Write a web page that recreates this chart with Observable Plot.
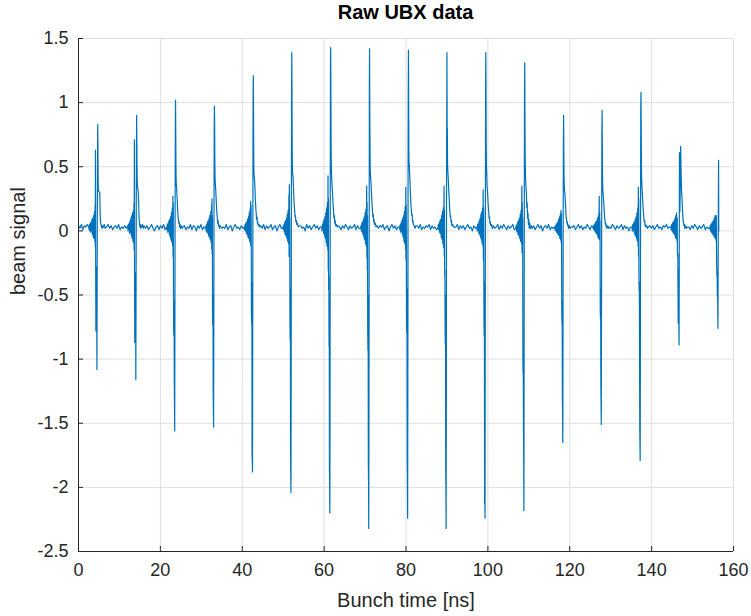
<!DOCTYPE html>
<html><head><meta charset="utf-8">
<script src="https://cdn.jsdelivr.net/npm/d3@7"></script>
<script src="https://cdn.jsdelivr.net/npm/@observablehq/plot@0.6"></script>
<style>
body{margin:0;background:#fff;}
#wrap{width:751px;height:616px;position:relative;font-family:"Liberation Sans",Arial,sans-serif;}
#title{position:absolute;left:78px;width:655px;top:0;height:24px;line-height:24px;text-align:center;font-weight:bold;font-size:20px;color:#000;}
#chart{position:absolute;left:0;top:28px;}
</style></head><body>
<div id="wrap"><div id="title">Raw UBX data</div><div id="chart"></div></div>
<script>
// ---- axes ----
const xDomain = [0, 160];
const yDomain = [-2.5, 1.5];
const xTicks = [0, 20, 40, 60, 80, 100, 120, 140, 160];
const yTicks = [-2.5, -2, -1.5, -1, -0.5, 0, 0.5, 1, 1.5];
const xLabel = "Bunch time [ns]";
const yLabel = "beam signal";

// ---- bunch arrival times (ns), time of main negative spike ----
const pulseTime = [4.5, 14.0, 23.5, 33.0, 42.5, 51.9, 61.4, 70.9, 80.4, 89.8, 99.3, 108.8, 118.3, 127.7, 137.2, 146.7, 156.2];

// sample offsets (ns) around each bunch
const pulseOffsets = [-2.0,-1.9,-1.8,-1.7,-1.6,-1.5,-1.4,-1.3,-1.2,-1.1,-1.0,-0.9,-0.8,-0.7,-0.6,
  -0.5,-0.45,-0.4,-0.35,-0.3,-0.25,-0.2,-0.15,-0.1,-0.05,0,0.05,0.1,0.15,0.2,0.25,0.3,0.35,0.4,
  0.5,0.6,0.7,0.8,0.9,1.0,1.1,1.2,1.3,1.4,
  1.6,1.8,2.0];

// signal values at those offsets, one row per bunch
const pulse01 = [0.03,0.01,0.05,0.00,0.06,-0.01,0.07,0.00,0.09,-0.03,0.10,-0.05,0.12,-0.06,0.15,
  -0.08,0.20,-0.12,0.63,-0.30,-0.78,-0.33,-0.28,-0.31,-0.60,-1.08,-0.45,0.10,0.55,0.83,0.62,0.40,0.31,0.31,
  0.31,0.30,0.30,0.12,0.06,0.05,0.03,0.04,0.02,0.04, 0.03,0.05,0.02];
const pulse02 = [0.04,0.00,0.05,0.01,0.06,-0.02,0.08,-0.01,0.10,-0.04,0.12,-0.06,0.14,-0.08,0.16,
  -0.10,0.22,-0.15,0.71,-0.40,-0.87,-0.56,-0.33,-0.52,-0.45,-1.16,-0.60,0.05,0.62,0.90,0.70,0.48,0.38,0.35,
  0.33,0.30,0.22,0.10,0.06,0.03,0.05,0.02,0.04,0.03, 0.05,0.02,0.04];
const pulse03 = [0.03,0.01,0.05,-0.01,0.06,0.00,0.08,-0.03,0.09,-0.05,0.11,-0.07,0.14,-0.09,0.18,
  -0.12,0.27,-0.20,0.22,-0.43,-0.78,-0.82,-0.55,-1.20,-1.35,-1.56,-0.70,0.20,0.75,1.02,0.80,0.52,0.40,0.36,
  0.32,0.25,0.18,0.12,0.08,0.06,0.07,0.03,0.05,0.02, 0.04,0.02,0.03];
const pulse04 = [0.02,0.04,0.00,0.05,-0.01,0.07,-0.02,0.08,-0.04,0.10,-0.05,0.12,-0.07,0.15,-0.09,
  0.20,-0.14,0.25,-0.18,0.12,-0.70,-0.74,-0.50,-1.25,-1.40,-1.53,-0.80,0.15,0.76,0.97,0.85,0.55,0.42,0.38,
  0.33,0.27,0.20,0.14,0.10,0.06,0.08,0.04,0.05,0.02, 0.04,0.03,0.02];
const pulse05 = [0.03,0.01,0.05,0.00,0.06,-0.02,0.07,-0.03,0.09,-0.05,0.11,-0.06,0.14,-0.08,0.17,
  -0.10,0.23,-0.12,0.20,-0.08,-0.65,-0.72,-0.40,-1.75,-1.79,-1.88,-1.00,0.25,1.01,1.21,1.00,0.60,0.45,0.43,
  0.40,0.33,0.25,0.18,0.14,0.09,0.11,0.06,0.07,0.04, 0.05,0.03,0.04];
const pulse06 = [0.02,0.04,0.01,0.05,-0.01,0.07,-0.03,0.08,-0.04,0.10,-0.06,0.13,-0.08,0.16,-0.10,
  0.28,-0.20,0.36,-0.15,0.10,-0.70,-0.85,-0.45,-1.70,-1.90,-2.04,-1.10,0.30,1.08,1.39,1.05,0.65,0.48,0.45,
  0.42,0.35,0.27,0.20,0.16,0.11,0.12,0.07,0.08,0.05, 0.06,0.03,0.04];
const pulse07 = [0.03,0.00,0.05,0.01,0.07,-0.02,0.09,-0.04,0.11,-0.06,0.14,-0.09,0.18,-0.12,0.22,
  -0.15,0.43,-0.31,0.25,-0.46,-0.35,-0.90,-0.55,-1.86,-1.95,-2.20,-1.20,0.35,1.30,1.43,1.10,0.70,0.51,0.45,
  0.37,0.32,0.26,0.20,0.15,0.10,0.12,0.06,0.08,0.04, 0.05,0.03,0.04];
const pulse08 = [0.02,0.04,0.00,0.06,-0.01,0.07,-0.03,0.09,-0.05,0.11,-0.07,0.14,-0.10,0.17,-0.12,
  0.35,-0.21,0.22,-0.30,0.12,-0.77,-0.93,-0.50,-1.81,-1.95,-2.32,-1.40,-0.30,1.10,1.42,0.95,0.70,0.50,0.44,
  0.40,0.34,0.27,0.21,0.16,0.11,0.13,0.07,0.09,0.05, 0.06,0.03,0.04];
const pulse09 = [0.03,0.01,0.05,-0.01,0.06,0.00,0.08,-0.03,0.10,-0.05,0.12,-0.08,0.15,-0.10,0.19,
  -0.14,0.34,-0.23,0.20,-0.10,-0.72,-0.80,-0.45,-1.78,-1.92,-2.24,-1.15,0.30,1.04,1.41,1.00,0.59,0.51,0.52,
  0.44,0.36,0.28,0.21,0.16,0.12,0.13,0.07,0.08,0.05, 0.04,0.02,0.04];
const pulse10 = [0.02,0.05,0.01,0.06,-0.01,0.08,-0.02,0.09,-0.05,0.12,-0.07,0.15,-0.10,0.18,-0.13,
  0.35,-0.20,0.16,-0.35,-0.30,-0.75,-0.88,-0.50,-1.85,-2.00,-2.32,-1.30,0.20,0.87,1.39,0.76,0.80,0.53,0.48,
  0.42,0.35,0.28,0.22,0.16,0.11,0.12,0.07,0.08,0.04, 0.05,0.03,0.03];
const pulse11 = [0.03,0.00,0.05,0.01,0.06,-0.02,0.08,-0.03,0.10,-0.05,0.13,-0.07,0.15,-0.10,0.18,
  -0.12,0.32,-0.23,0.18,-0.12,-0.70,-0.82,-0.40,-2.13,-1.90,-2.24,-1.10,0.32,1.15,1.39,0.95,0.62,0.51,0.45,
  0.35,0.31,0.25,0.19,0.15,0.10,0.11,0.06,0.07,0.04, 0.05,0.02,0.04];
const pulse12 = [0.02,0.04,0.00,0.05,-0.01,0.07,-0.03,0.08,-0.04,0.10,-0.06,0.13,-0.08,0.16,-0.10,
  0.35,-0.17,0.22,-0.12,0.10,-0.98,-1.11,-1.00,-1.54,-1.80,-2.18,-1.05,0.28,1.05,1.31,0.92,0.60,0.48,0.42,
  0.35,0.30,0.18,0.22,0.10,0.14,0.05,0.09,0.02,0.06, 0.02,0.04,0.02];
const pulse13 = [0.03,0.01,0.04,0.00,0.05,-0.01,0.06,-0.02,0.07,-0.03,0.09,-0.04,0.11,-0.06,0.13,
  -0.07,0.16,-0.09,0.14,-0.05,-0.64,-0.72,-0.55,-1.30,-1.45,-1.65,-0.85,0.12,0.70,0.90,0.65,0.44,0.36,0.32,
  0.30,0.24,0.18,0.12,0.09,0.06,0.07,0.04,0.05,0.02, 0.04,0.02,0.03];
const pulse14 = [0.02,0.04,0.01,0.05,0.00,0.06,-0.01,0.07,-0.02,0.08,-0.03,0.10,-0.05,0.12,-0.06,
  0.27,-0.07,0.15,-0.05,0.08,-0.60,-0.68,-0.45,-1.20,-1.35,-1.51,-0.75,0.10,0.76,0.94,0.70,0.45,0.36,0.30,
  0.27,0.22,0.17,0.11,0.08,0.05,0.06,0.03,0.04,0.02, 0.04,0.02,0.03];
const pulse15 = [0.03,0.00,0.05,0.01,0.06,-0.01,0.07,-0.03,0.09,-0.04,0.11,-0.06,0.14,-0.08,0.18,
  -0.12,0.34,-0.20,0.25,-0.37,-0.46,-0.40,-0.90,-1.52,-1.65,-1.79,-0.95,0.20,0.96,1.08,0.85,0.55,0.41,0.38,
  0.30,0.25,0.19,0.14,0.10,0.07,0.08,0.04,0.05,0.03, 0.04,0.02,0.03];
const pulse16 = [0.03,0.01,0.05,0.00,0.06,-0.01,0.07,-0.02,0.08,-0.03,0.10,-0.05,0.12,-0.06,0.14,
  -0.08,0.10,-0.16,-0.20,-0.18,-0.50,-0.72,-0.30,-0.55,-0.70,-0.89,-0.20,0.61,0.40,0.15,0.25,0.45,0.59,0.66,
  0.45,0.31,0.27,0.20,0.12,0.08,0.06,0.04,0.05,0.02, 0.04,0.02,0.03];
// the record ends on the last bunch
const pulse17 = [0.02,0.04,0.00,0.05,-0.01,0.06,-0.02,0.07,-0.03,0.08,-0.04,0.10,-0.05,0.12,-0.06,
  0.10,-0.08,0.12,-0.15,-0.30,-0.35,-0.32,-0.51,-0.40,-0.60,-0.76,-0.30,0.20,0.55,0.00];
const pulseRows = [pulse01,pulse02,pulse03,pulse04,pulse05,pulse06,pulse07,pulse08,pulse09,pulse10,pulse11,pulse12,pulse13,pulse14,pulse15,pulse16,pulse17];

// baseline noise between bunches (gap 0 = record start up to first bunch)
const gap00 = [0.04,0.02,0.05,0.01,0.04,0.03,0.05];
const gap01 = [0.03,0.05,0.02,0.04,0.01,0.03,0.04,0.02,0.05,0.01,0.03,0.02,0.04,0.02];
const gap02 = [0.02,0.04,0.01,0.03,0.05,0.02,0.00,0.03,0.04,0.01,0.04,0.02,0.05,0.01];
const gap03 = [0.04,0.01,0.03,0.02,0.05,0.01,0.04,0.03,0.00,0.04,0.02,0.05,0.01,0.03];
const gap04 = [0.03,0.02,0.05,0.01,0.03,0.04,0.00,0.03,0.05,0.02,0.03,0.01,0.04,0.02];
const gap05 = [0.02,0.05,0.01,0.04,0.02,0.03,0.05,0.01,0.03,0.04,0.00,0.03,0.05,0.02];
const gap06 = [0.04,0.02,0.03,0.00,0.05,0.02,0.04,0.01,0.03,0.05,0.02,0.04,0.01,0.03];
const gap07 = [0.03,0.01,0.04,0.02,0.05,0.03,0.01,0.04,0.02,0.03,0.05,0.01,0.04,0.02];
const gap08 = [0.02,0.04,0.03,0.05,0.01,0.03,0.04,0.00,0.03,0.05,0.02,0.04,0.01,0.03];
const gap09 = [0.04,0.02,0.05,0.01,0.03,0.02,0.04,0.03,0.05,0.01,0.04,0.02,0.03,0.01];
const gap10 = [0.03,0.05,0.01,0.04,0.02,0.04,0.01,0.03,0.05,0.02,0.03,0.00,0.04,0.02];
const gap11 = [0.02,0.03,0.05,0.01,0.04,0.02,0.05,0.03,0.01,0.04,0.02,0.03,0.05,0.01];
const gap12 = [0.04,0.01,0.03,0.05,0.02,0.04,0.00,0.03,0.04,0.02,0.05,0.01,0.03,0.02];
const gap13 = [0.03,0.04,0.01,0.03,0.05,0.02,0.04,0.01,0.03,0.02,0.05,0.03,0.01,0.04];
const gap14 = [0.02,0.05,0.03,0.01,0.04,0.02,0.03,0.05,0.01,0.04,0.02,0.03,0.00,0.03];
const gap15 = [0.04,0.02,0.04,0.01,0.03,0.05,0.02,0.03,0.01,0.04,0.03,0.05,0.02,0.03];
const gap16 = [0.03,0.01,0.04,0.02,0.05,0.03,0.01,0.04,0.02,0.03,0.05,0.01,0.03,0.02];
const gapRows = [gap01,gap02,gap03,gap04,gap05,gap06,gap07,gap08,gap09,gap10,gap11,gap12,gap13,gap14,gap15,gap16];

// ---- assemble the trace ----
const samples = [];
{
  const end0 = pulseTime[0] + pulseOffsets[0];
  gap00.forEach((v, j) => samples.push({t: end0 * j / gap00.length, v}));
  pulseRows.forEach((row, i) => {
    row.forEach((v, k) => samples.push({t: pulseTime[i] + pulseOffsets[k], v}));
    const g = gapRows[i];
    if (g) {
      const a = pulseTime[i] + pulseOffsets[pulseOffsets.length - 1];
      const b = pulseTime[i + 1] + pulseOffsets[0];
      g.forEach((v, j) => samples.push({t: a + (b - a) * (j + 1) / (g.length + 1), v}));
    }
  });
}

const ink = "#262626";
const plot = Plot.plot({
  width: 751, height: 588,
  marginTop: 10, marginBottom: 65, marginLeft: 78, marginRight: 18,
  style: {fontFamily: "'Liberation Sans', Arial, sans-serif", fontSize: "18px", color: ink, background: "#fff", overflow: "visible"},
  x: {domain: xDomain},
  y: {domain: yDomain},
  marks: [
    Plot.gridX(xTicks, {stroke: "#dfdfdf", strokeOpacity: 1}),
    Plot.gridY(yTicks, {stroke: "#dfdfdf", strokeOpacity: 1}),
    Plot.line(samples, {x: "t", y: "v", stroke: "#0072BD", strokeWidth: 1.2}),
    Plot.ruleX([xDomain[0]], {stroke: ink}),
    Plot.ruleY([yDomain[0]], {stroke: ink}),
    Plot.axisX(xTicks, {tickSize: -5, tickPadding: 17, tickFormat: d => String(d), label: null, stroke: ink, color: ink, fontSize: 18}),
    Plot.axisY(yTicks, {tickSize: -5, tickPadding: 15, tickFormat: d => String(d), label: null, stroke: ink, color: ink, fontSize: 18}),
    Plot.text([xLabel], {text: d => d, frameAnchor: "bottom", dy: 49, fontSize: 20, fill: ink, lineAnchor: "middle"}),
    Plot.text([yLabel], {text: d => d, frameAnchor: "left", dx: -60, rotate: -90, fontSize: 20, fill: ink, lineAnchor: "middle"})
  ]
});
document.getElementById("chart").appendChild(plot);
</script>
</body></html>
